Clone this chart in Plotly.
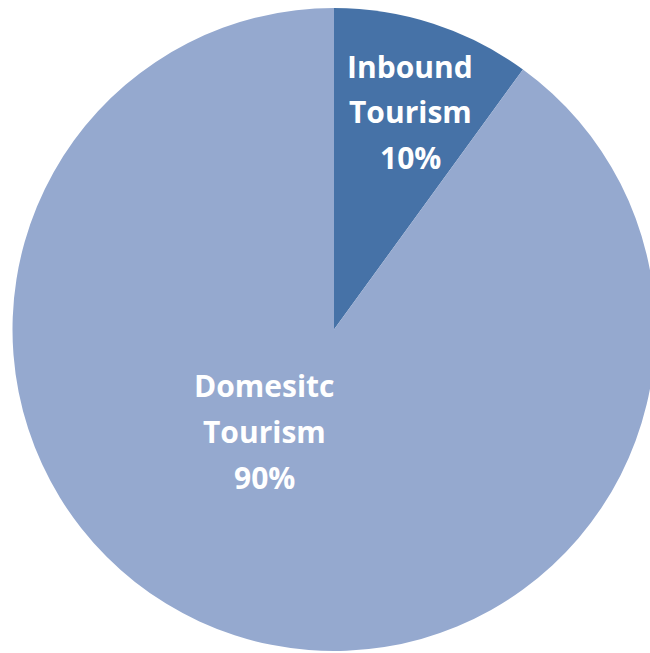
import plotly.graph_objects as go

labels = ["Inbound Tourism", "Domesitc Tourism"]
values = [10, 90]
label_lines = [["Inbound", "Tourism", "10%"], ["Domesitc", "Tourism", "90%"]]
colors = ["#4672A7", "#95A9CF"]

W, H = 656, 653
# pixel centers of each label block (first line), line spacing in px
label_pos = [(410, 66), (264, 386)]
line_gap = 45.5

fig = go.Figure(go.Pie(
    labels=labels, values=values, sort=False, direction="clockwise", rotation=0,
    marker=dict(colors=colors, line=dict(width=0)),
    textinfo="none", hoverinfo="label+percent", showlegend=False,
    domain=dict(x=[12 / W, 1], y=[2 / H, 1 - 8 / H]),
))

anns = []
for (cx, cy), lines, lab, val in zip(label_pos, label_lines, labels, values):
    for i, t in enumerate(lines):
        anns.append(dict(
            x=cx / W, y=1 - (cy + i * line_gap) / H, xref="paper", yref="paper",
            text=t, showarrow=False, xanchor="center", yanchor="middle",
            font=dict(family="Open Sans", size=30, color="white", weight="bold"),
        ))

fig.update_layout(
    width=W, height=H, margin=dict(l=0, r=0, t=0, b=0),
    paper_bgcolor="white", plot_bgcolor="white", annotations=anns,
)

fig.write_html("out.html", config={"displayModeBar": False},
               post_script="document.body.style.margin='0';document.body.style.overflow='hidden';")
